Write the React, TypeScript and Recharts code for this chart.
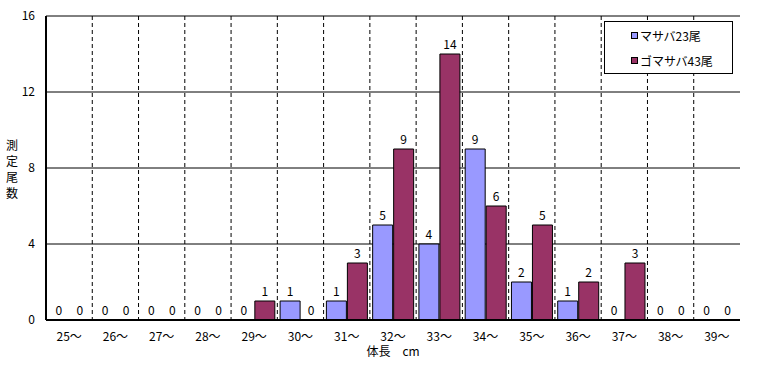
import { Bar, BarChart, CartesianGrid, LabelList, Rectangle, XAxis, YAxis } from "recharts";

const lengths = ["25〜", "26〜", "27〜", "28〜", "29〜", "30〜", "31〜", "32〜", "33〜", "34〜", "35〜", "36〜", "37〜", "38〜", "39〜"];
const masaba = [0, 0, 0, 0, 0, 1, 1, 5, 4, 9, 2, 1, 0, 0, 0];
const gomasaba = [0, 0, 0, 0, 1, 0, 3, 9, 14, 6, 5, 2, 3, 0, 0];
const yTicks = [0, 4, 8, 12, 16];
const seriesNames = ["マサバ23尾", "ゴマサバ43尾"];
const seriesColors = ["#9999FF", "#993366"];
const yTitle = "測定尾数";
const xTitle = "体長　cm";

const FONT = "'MS PGothic', 'Noto Sans CJK JP', sans-serif";

const data = lengths.map((len, i) => ({
  len,
  masaba: masaba[i],
  gomasaba: gomasaba[i],
}));

function LegendBox() {
  return (
    <div
      style={{
        position: "absolute",
        left: 604,
        top: 21,
        width: 127,
        height: 51,
        border: "1px solid #000",
        background: "#fff",
        fontFamily: FONT,
        fontSize: 12,
      }}
    >
      {seriesNames.map((name, i) => (
        <div
          key={name}
          style={{ display: "flex", alignItems: "center", marginLeft: 26, marginTop: i === 0 ? 5 : 9, height: 16 }}
        >
          <span
            style={{
              display: "inline-block",
              width: 5,
              height: 5,
              background: seriesColors[i],
              border: "1px solid #000",
              marginRight: 2,
            }}
          />
          <span>{name}</span>
        </div>
      ))}
    </div>
  );
}

// vertical axis title, one character per line
function YTitle() {
  return (
    <div
      style={{
        position: "absolute",
        left: 4,
        top: 137,
        width: 16,
        fontFamily: FONT,
        fontSize: 12,
        lineHeight: "16px",
        textAlign: "center",
      }}
    >
      {yTitle.split("").map((ch, i) => (
        <div key={i} style={{ height: 16 }}>
          {ch}
        </div>
      ))}
    </div>
  );
}

// draw nothing for empty bars, but keep them so their "0" label shows
const barShape = (props: any) => (props.value > 0 ? <Rectangle {...props} /> : <g />);

export default function App() {
  return (
    <div style={{ position: "absolute", left: 0, top: 0, width: 760, height: 365, background: "#fff" }}>
      <BarChart
        width={760}
        height={365}
        data={data}
        margin={{ top: 16, right: 20, left: 0, bottom: 0 }}
        barCategoryGap="6%"
        barGap={1}
      >
        <CartesianGrid vertical={false} stroke="#000" strokeWidth={1} />
        <CartesianGrid
          horizontal={false}
          stroke="#000"
          strokeDasharray="4 3"
          verticalCoordinatesGenerator={({ offset }) => {
            const left = offset?.left ?? 0;
            const w = offset?.width ?? 0;
            return lengths.slice(1).map((_, i) => left + ((i + 1) * w) / lengths.length);
          }}
        />
        <XAxis
          dataKey="len"
          height={45}
          axisLine={{ stroke: "#000", strokeWidth: 2 }}
          tickLine={false}
          tickMargin={6}
          tick={{ fill: "#000", fontSize: 12, fontFamily: FONT }}
          interval={0}
          label={{ value: xTitle, position: "insideBottom", offset: 9, fill: "#000", fontSize: 12, fontFamily: FONT }}
        />
        <YAxis
          width={46}
          domain={[0, 16]}
          ticks={yTicks}
          axisLine={{ stroke: "#000", strokeWidth: 2 }}
          tickLine={false}
          tickMargin={5}
          tick={{ fill: "#000", fontSize: 12, fontFamily: FONT }}
        />
        <YAxis
          yAxisId="right"
          orientation="right"
          width={0}
          domain={[0, 16]}
          axisLine={{ stroke: "#000", strokeWidth: 1 }}
          tick={false}
          tickLine={false}
        />
        <Bar
          dataKey="masaba"
          name={seriesNames[0]}
          fill={seriesColors[0]}
          stroke="#000"
          strokeWidth={1}
          minPointSize={0.01}
          shape={barShape}
          isAnimationActive={false}
        >
          <LabelList dataKey="masaba" position="top" offset={5} fill="#000" fontSize={12} fontFamily={FONT} />
        </Bar>
        <Bar
          dataKey="gomasaba"
          name={seriesNames[1]}
          fill={seriesColors[1]}
          stroke="#000"
          strokeWidth={1}
          minPointSize={0.01}
          shape={barShape}
          isAnimationActive={false}
        >
          <LabelList dataKey="gomasaba" position="top" offset={5} fill="#000" fontSize={12} fontFamily={FONT} />
        </Bar>
      </BarChart>
      <YTitle />
      <LegendBox />
    </div>
  );
}
